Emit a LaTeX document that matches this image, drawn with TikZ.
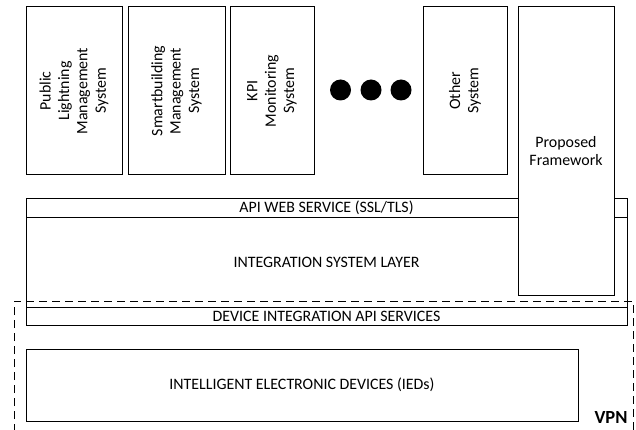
\documentclass[tikz,border=0pt]{standalone}
\usepackage{fontspec}
\setmainfont{Carlito}
\usetikzlibrary{positioning}
\tikzstyle{sysbox} = [rectangle, draw, fill=white, line width=1pt, inner sep=0pt,
                      rotate=90, align=center, minimum width=168pt]
\tikzstyle{band}   = [rectangle, draw, fill=white, line width=1pt, inner sep=0pt,
                      minimum width=601pt, text centered]
\begin{document}
\begin{tikzpicture}[
			x=1pt, y=-1pt,
			font=\fontsize{15.9}{18.4}\selectfont,
			dot/.style={circle, fill=black, minimum size=21pt, inner sep=0pt},
			vpnline/.style={dashed, line width=0.6pt, dash pattern=on 8pt off 5pt}
		]
		\useasboundingbox (0,0) rectangle (636,430);
		% client systems
		\node[sysbox, minimum height=96pt] (pub) at (74,91) {Public\\Lightning\\Management\\System};
		\node[sysbox, minimum height=97pt] (smart) at (176.5,91) {Smartbuilding\\Management\\System};
		\node[sysbox, minimum height=84pt] (kpi) at (272,91) {KPI\\Monitoring\\System};
		\node[dot] (d1) at (340.5,90) {};
		\node[dot] (d2) at (371,90) {};
		\node[dot] (d3) at (401,90) {};
		\node[sysbox, minimum height=84pt] (other) at (465,91) {Other\\System};
		% integration layers
		\node[band, minimum height=18pt] (api) at (326.5,208) {API WEB SERVICE (SSL/TLS)};
		\node[band, minimum height=90pt] (layer) at (326.5,262) {INTEGRATION SYSTEM LAYER};
		\node[band, minimum height=18pt] (dev) at (326.5,316) {DEVICE INTEGRATION API SERVICES};
		\node[rectangle, draw, fill=white, line width=1pt, align=center,
			minimum width=96pt, minimum height=288pt] (frame) at (566,151) {Proposed\\Framework};
		% devices and VPN
		\node[band, minimum width=552pt, minimum height=72pt] (ied) at (302,385) {INTELLIGENT ELECTRONIC DEVICES (IEDs)};
		\draw[vpnline] (14,432) -- (14,301) -- (633,301) -- (633,432);
		\node[font=\fontsize{18.5}{20}\selectfont\bfseries, inner sep=0pt] (vpn) at (611,417) {VPN};
	\end{tikzpicture}
\end{document}
